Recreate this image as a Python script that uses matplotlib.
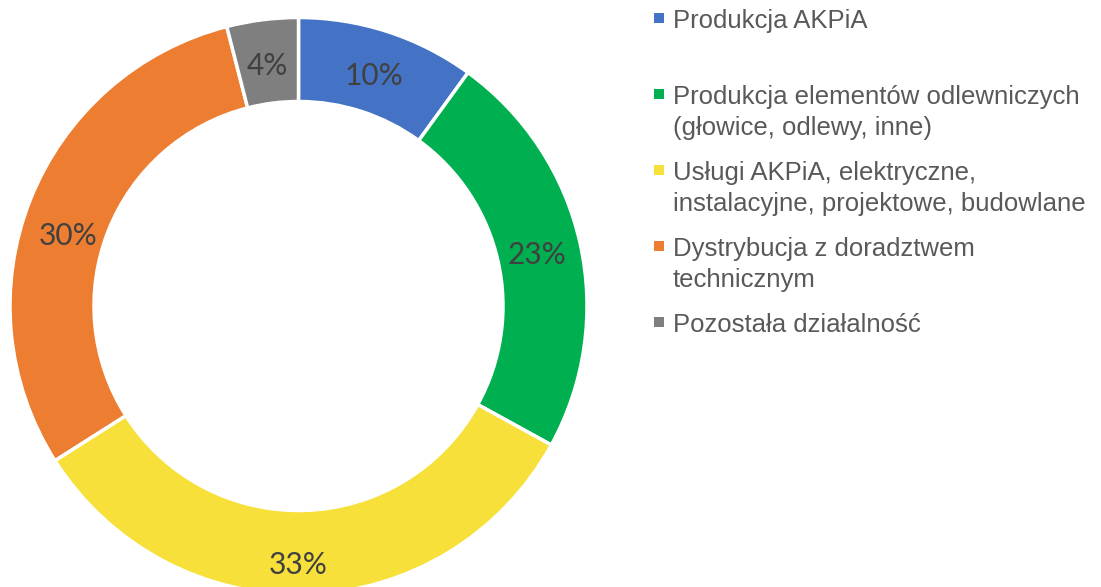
import matplotlib.pyplot as plt
from matplotlib.patches import Rectangle

# dane
categories = ["Produkcja AKPiA",
              "Produkcja elementów odlewniczych\n(głowice, odlewy, inne)",
              "Usługi AKPiA, elektryczne,\ninstalacyjne, projektowe, budowlane",
              "Dystrybucja z doradztwem\ntechnicznym",
              "Pozostała działalność"]
shares = [10, 23, 33, 30, 4]
colors = ["#4472C4", "#00B050", "#F7E03A", "#ED7D31", "#7F7F7F"]

W, H = 1101, 587
fig = plt.figure(figsize=(W / 100, H / 100), dpi=100)
ax = fig.add_axes([0, 0, 1, 1])
ax.set_aspect("equal")
ax.axis("off")

R = 288.5
ring = 84
wedges, _, autotexts = ax.pie(
    shares, colors=colors, center=(298.5, H - 306), radius=R,
    startangle=90, counterclock=False, autopct="%d%%", pctdistance=0.848,
    wedgeprops=dict(width=ring, edgecolor="white", linewidth=2.5),
    textprops=dict(color="#404040", fontsize=21.5, family="Lato"))
ax.set_xlim(0, W)
ax.set_ylim(0, H)

# Excel przesunął dwie etykiety trochę w dół (piksele)
nudge = {2: (-8, -12), 3: (-3, -18)}
for i, t in enumerate(autotexts):
    t.set_va("center_baseline")
    dx, dy = nudge.get(i, (0, 0))
    x, y = t.get_position()
    t.set_position((x + dx, y + dy))

# legenda (ręcznie, jak w Excelu)
for i, (lab, col) in enumerate(zip(categories, colors)):
    base = H - (28 + i * 76)
    ax.add_patch(Rectangle((653.5, base + 5), 10, 10, facecolor=col, edgecolor="none"))
    for j, line in enumerate(lab.split("\n")):
        ax.text(673, base - j * 31, line, va="baseline", ha="left", fontsize=18.5,
                color="#595959", family="Liberation Sans")

plt.savefig("out.png", dpi=100)
